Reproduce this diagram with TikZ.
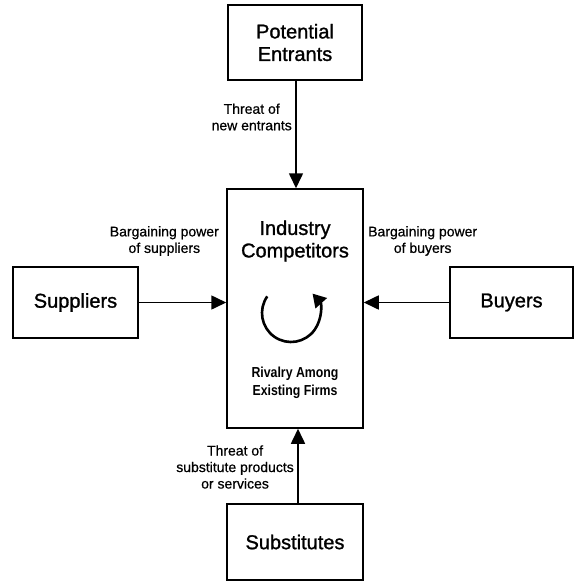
\documentclass[tikz,border=0pt]{standalone}
\usepackage{fontspec}
\setmainfont{Liberation Sans}
\newfontfamily\titlefont[FakeBold=1.2]{Liberation Sans}
\newfontfamily\lblfont[FakeBold=0.6]{Liberation Sans}
\usetikzlibrary{arrows.meta}
\tikzset{
  box/.style={draw, line width=1.5pt, inner sep=0pt},
  title/.style={font=\titlefont\fontsize{20}{22.5}\selectfont, align=center, inner sep=0pt},
  lbl/.style={font=\lblfont\fontsize{14}{16.5}\selectfont, align=center, inner sep=0pt},
  rival/.style={font=\bfseries\fontsize{14.5}{18.5}\selectfont, align=center, inner sep=0pt, xscale=0.85},
  force/.style={line width=1.6pt, -{Triangle[length=15pt,width=14pt]}},
}
\begin{document}
\begin{tikzpicture}[x=1pt,y=-1pt]
\useasboundingbox (0,0) rectangle (574,582);
% boxes
\node[box, minimum width=134pt, minimum height=75pt] (ent) at (295,42.5) {};
\node[box, minimum width=136pt, minimum height=239pt] (ind) at (295,308.5) {};
\node[box, minimum width=125pt, minimum height=71pt] (sup) at (75.5,302.5) {};
\node[box, minimum width=123pt, minimum height=71pt] (buy) at (511.5,302.5) {};
\node[box, minimum width=136pt, minimum height=76pt] (sub) at (295,542) {};
% titles
\node[title] (entT) at (ent) {Potential\\Entrants};
\node[title] (indT) at (295,241) {Industry\\Competitors};
\node[title] (supT) at (sup) {Suppliers};
\node[title] (buyT) at (buy) {Buyers};
\node[title] (subT) at (sub) {Substitutes};
\node[rival] (rivT) at (295,383) {Rivalry Among\\Existing Firms};
% connectors
\draw[force] ([xshift=1pt]ent.south) -- ([xshift=1pt]ind.north);
\draw[force] ([xshift=3pt]sub.north) -- ([xshift=3pt]ind.south);
\draw[force] (sup.east) -- (sup.east -| ind.west);
\draw[force] (buy.west) -- (buy.west -| ind.east);
% labels
\node[lbl, anchor=east] (lblEnt) at (292,117) {Threat of\\new entrants};
\node[lbl, anchor=east] (lblSup) at (219,241) {Bargaining power\\of suppliers};
\node[lbl, anchor=west] (lblBuy) at (368,241) {Bargaining power\\of buyers};
\node[lbl, anchor=east] (lblSub) at (294,467) {Threat of\\substitute products\\or services};
% rivalry cycle
\coordinate (cyc) at (291,313);
\draw[line width=2.6pt, -{Triangle[length=13pt,width=15pt]}]
  (cyc) ++(-145:29) arc[start angle=-145, end angle=-402, radius=29];
\end{tikzpicture}
\end{document}
